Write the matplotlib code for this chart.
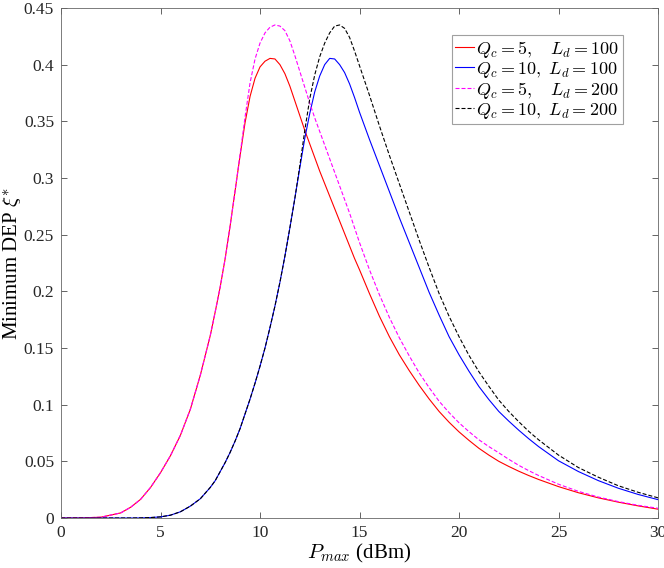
import numpy as np
import matplotlib
matplotlib.use('Agg')
import matplotlib.pyplot as plt
from matplotlib.ticker import FormatStrFormatter

plt.rcParams['font.family'] = ['Liberation Serif', 'DejaVu Serif']
plt.rcParams['mathtext.fontset'] = 'cm'

# transmit power samples (dBm), denser around the peaks
p_max = [0, 1, 2, 3, 3.5, 4, 4.5, 5, 5.5, 6, 6.5, 7,
         7.5, 7.75, 8, 8.25, 8.5, 8.75, 9, 9.25, 9.5, 9.75, 10, 10.25, 10.5, 10.75,
         11, 11.25, 11.5, 11.75, 12, 12.25, 12.5, 12.75, 13, 13.25, 13.5, 13.75,
         14, 14.25, 14.5, 14.75, 15,
         15.5, 16, 16.5, 17, 17.5, 18, 18.5, 19, 19.5, 20,
         20.5, 21, 21.5, 22, 22.5, 23, 23.5, 24, 25, 26, 27, 28, 29, 30]

# Qc = 5, Ld = 100
dep_q5_l100 = [0.0, 0.0001, 0.0007, 0.0045, 0.0095, 0.0165, 0.027, 0.040, 0.055, 0.073, 0.096, 0.126,
               0.161, 0.182, 0.204, 0.229, 0.258, 0.289, 0.320, 0.349, 0.372, 0.388, 0.398, 0.403, 0.4055, 0.405,
               0.400, 0.392, 0.381, 0.368, 0.355, 0.342, 0.330, 0.318, 0.306, 0.295, 0.284, 0.273,
               0.262, 0.251, 0.240, 0.229, 0.219,
               0.198, 0.178, 0.160, 0.144, 0.130, 0.117, 0.105, 0.094, 0.0845, 0.076,
               0.0685, 0.0615, 0.0555, 0.050, 0.0455, 0.0413, 0.0375, 0.0340,
               0.0277, 0.0223, 0.0178, 0.0140, 0.0107, 0.0078]

# Qc = 10, Ld = 100
dep_q10_l100 = [0.0, 0.0, 0.0, 0.0, 0.0, 0.0001, 0.0004, 0.0010, 0.0025, 0.0055, 0.0105, 0.0170,
                0.027, 0.033, 0.041, 0.049, 0.058, 0.068, 0.079, 0.092, 0.105, 0.119, 0.134, 0.150, 0.168, 0.187,
                0.208, 0.231, 0.256, 0.282, 0.309, 0.335, 0.357, 0.376, 0.390, 0.400, 0.4055, 0.405,
                0.400, 0.393, 0.383, 0.371, 0.358,
                0.334, 0.311, 0.288, 0.265, 0.243, 0.221, 0.199, 0.179, 0.160, 0.144,
                0.1295, 0.116, 0.1045, 0.094, 0.0855, 0.0775, 0.070, 0.063,
                0.0505, 0.041, 0.033, 0.0263, 0.0208, 0.0162]

# Qc = 5, Ld = 200
dep_q5_l200 = [0.0, 0.0001, 0.0007, 0.0045, 0.0095, 0.0165, 0.027, 0.040, 0.055, 0.073, 0.096, 0.126,
               0.161, 0.182, 0.204, 0.229, 0.258, 0.289, 0.321, 0.354, 0.384, 0.405, 0.419, 0.428, 0.433, 0.435,
               0.434, 0.430, 0.421, 0.408, 0.394, 0.380, 0.366, 0.353, 0.341, 0.329, 0.317, 0.305,
               0.293, 0.281, 0.269, 0.256, 0.243,
               0.219, 0.197, 0.177, 0.159, 0.143, 0.128, 0.115, 0.103, 0.093, 0.084,
               0.0762, 0.069, 0.063, 0.0575, 0.0518, 0.0465, 0.0418, 0.0375,
               0.0298, 0.0235, 0.0185, 0.0145, 0.0112, 0.0086]

# Qc = 10, Ld = 200
dep_q10_l200 = [0.0, 0.0, 0.0, 0.0, 0.0, 0.0001, 0.0004, 0.0010, 0.0025, 0.0055, 0.0105, 0.0170,
                0.027, 0.033, 0.041, 0.049, 0.058, 0.068, 0.079, 0.092, 0.105, 0.119, 0.134, 0.150, 0.168, 0.187,
                0.208, 0.231, 0.256, 0.282, 0.311, 0.342, 0.370, 0.391, 0.407, 0.419, 0.428, 0.434,
                0.435, 0.432, 0.424, 0.412, 0.399,
                0.373, 0.346, 0.320, 0.295, 0.270, 0.245, 0.221, 0.198, 0.178, 0.160,
                0.1435, 0.129, 0.1162, 0.104, 0.094, 0.085, 0.0765, 0.069,
                0.0555, 0.0445, 0.036, 0.0285, 0.0227, 0.0178]

labels = [r'$Q_c = 5,\quad L_d = 100$',
          r'$Q_c = 10,\ L_d = 100$',
          r'$Q_c = 5,\quad L_d = 200$',
          r'$Q_c = 10,\ L_d = 200$']

fig = plt.figure(figsize=(6.64, 5.68), dpi=100)
ax = fig.add_axes([0.0919, 0.088, 0.8991, 0.898])

ax.plot(p_max, dep_q5_l100, color='#ff0000', lw=0.8, label=labels[0])
ax.plot(p_max, dep_q10_l100, color='#0000ff', lw=0.8, label=labels[1])
ax.plot(p_max, dep_q5_l200, color='#ff00ff', lw=0.8, dashes=(3.6, 1.8), label=labels[2])
ax.plot(p_max, dep_q10_l200, color='#000000', lw=0.8, dashes=(3.6, 1.8), label=labels[3])

ax.set_xlim(0, 30)
ax.set_ylim(0, 0.45)
ax.set_xticks(np.arange(0, 31, 5))
ax.set_yticks(np.arange(0, 0.46, 0.05))
ax.yaxis.set_major_formatter(FormatStrFormatter('%g'))
ax.tick_params(direction='in', top=True, right=True, length=4, width=0.5,
               labelsize=12.5, pad=5, colors='#262626')
for s in ax.spines.values():
    s.set_linewidth(0.6)
    s.set_color('#666666')

ax.set_xlabel(r'$P_{max}$ (dBm)', fontsize=15, labelpad=1)
ax.set_ylabel(r'Minimum DEP $\xi^{*}$', fontsize=15, labelpad=0)

leg = ax.legend(loc='upper right', bbox_to_anchor=(0.941, 0.947), fontsize=13,
                handlelength=1.05, handletextpad=0.1, labelspacing=0.0,
                borderpad=0.2, borderaxespad=0, fancybox=False, framealpha=1)
leg.get_frame().set_edgecolor('#a0a0a0')
leg.get_frame().set_linewidth(0.8)

fig.savefig('out.png', dpi=100)
plt.close(fig)
